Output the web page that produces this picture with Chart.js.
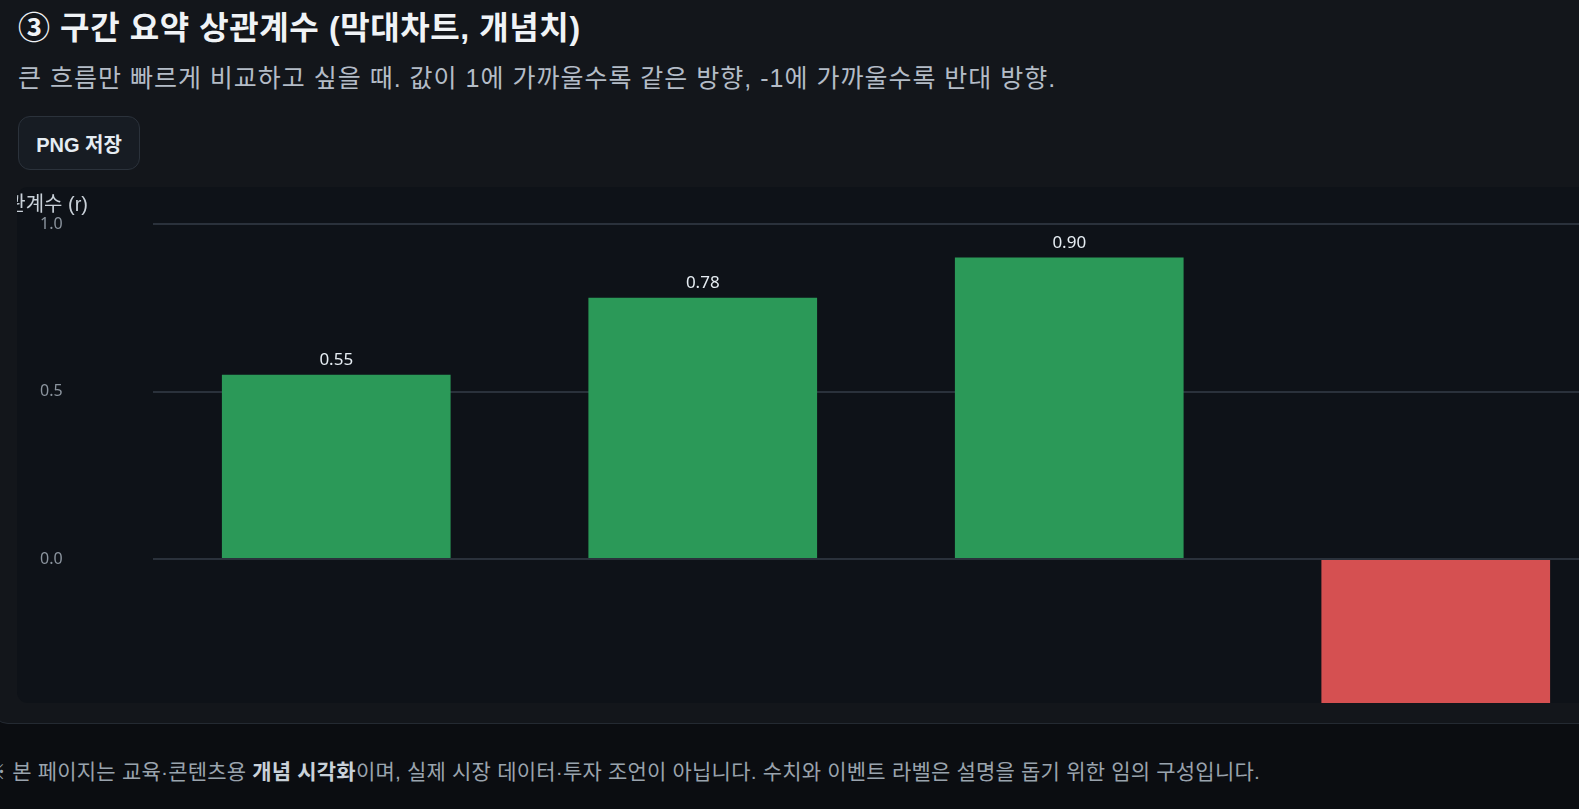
<!DOCTYPE html>
<html lang="ko">
<head>
<meta charset="utf-8">
<title>구간 요약 상관계수</title>
<script src="https://cdn.jsdelivr.net/npm/chart.js@4.4.1/dist/chart.umd.min.js"></script>
<style>
  html, body { margin: 0; padding: 0; }
  body {
    background: #0b0d11;
    width: 1579px; height: 809px;
    overflow: hidden; position: relative;
    font-family: "Liberation Sans", "Noto Sans CJK KR", sans-serif;
  }
  .card {
    position: absolute; left: -8px; top: -40px;
    width: 1700px; height: 762px;
    background: #13161b;
    border: 1px solid #242a32;
    border-radius: 16px;
  }
  h2 {
    position: absolute; left: 18px; top: 9px; margin: 0;
    font-size: 32px; line-height: 38px; font-weight: 700;
    letter-spacing: 0.6px;
    color: #f0f3f6;
  }
  .sub {
    position: absolute; left: 18px; top: 63px; margin: 0;
    font-size: 25px; line-height: 30px;
    letter-spacing: 1px;
    color: #b4bcc7;
  }
  button {
    position: absolute; left: 18px; top: 116px;
    width: 122px; height: 54px;
    background: #171c23; color: #e6edf3;
    border: 1px solid #2b323b; border-radius: 12px;
    font: 700 20px "Liberation Sans", "Noto Sans CJK KR", sans-serif;
  }
  .box {
    position: absolute; left: 17px; top: 187px;
    width: 1700px; height: 516px;
    background: #0e1218;
    border-radius: 11px;
    overflow: hidden;
  }
  #corrChart {
    position: absolute; left: -20px; top: 0;
  }
  .note {
    position: absolute; left: -15px; top: 757px; margin: 0;
    font-size: 21px; line-height: 30px;
    letter-spacing: 0.2px;
    color: #9aa3ad; white-space: nowrap;
  }
  .note b { color: #c9d1d9; }
</style>
</head>
<body>
<div class="card"></div>
<h2>③ 구간 요약 상관계수 (막대차트, 개념치)</h2>
<p class="sub">큰 흐름만 빠르게 비교하고 싶을 때. 값이 1에 가까울수록 같은 방향, -1에 가까울수록 반대 방향.</p>
<button>PNG 저장</button>
<div class="box">
  <canvas id="corrChart" width="1622" height="737"></canvas>
</div>
<p class="note">※ 본 페이지는 교육·콘텐츠용 <b>개념 시각화</b>이며, 실제 시장 데이터·투자 조언이 아닙니다. 수치와 이벤트 라벨은 설명을 돕기 위한 임의 구성입니다.</p>

<script>
// 구간별 상관계수 (개념치)
const segments = ['구간 1', '구간 2', '구간 3', '구간 4'];
const corrValues = [0.55, 0.78, 0.90, -0.62];
const yTicks = [-1.0, -0.5, 0.0, 0.5, 1.0];

const posColor = '#2b9958';
const negColor = '#d55051';

// 막대 위 값 표시 + 좌상단 축 제목
const barLabels = {
  id: 'barLabels',
  afterDatasetsDraw(chart) {
    const ctx = chart.ctx;
    const meta = chart.getDatasetMeta(0);
    ctx.save();
    ctx.font = '17px "Noto Sans", "Noto Sans CJK KR", sans-serif';
    ctx.fillStyle = '#e6edf3';
    ctx.textAlign = 'center';
    meta.data.forEach((bar, i) => {
      const v = corrValues[i];
      if (v >= 0) {
        ctx.textBaseline = 'bottom';
        ctx.fillText(v.toFixed(2), bar.x, bar.y - 6);
      } else {
        ctx.textBaseline = 'top';
        ctx.fillText(v.toFixed(2), bar.x, bar.y + 6);
      }
    });
    ctx.restore();
  },
  afterDraw(chart) {
    const ctx = chart.ctx;
    ctx.save();
    ctx.font = '20px "Liberation Sans", "Noto Sans CJK KR", sans-serif';
    ctx.fillStyle = '#c9d1d9';
    ctx.textAlign = 'right';
    ctx.textBaseline = 'middle';
    ctx.fillText('상관계수 (r)', 91, 18);
    ctx.restore();
  }
};

const ctx = document.getElementById('corrChart').getContext('2d');

const corrChart = new Chart(ctx, {
  type: 'bar',
  data: {
    labels: segments,
    datasets: [{
      label: '상관계수 (r)',
      data: corrValues,
      backgroundColor: corrValues.map(v => v >= 0 ? posColor : negColor),
      borderWidth: 0,
      categoryPercentage: 0.8,
      barPercentage: 0.78
    }]
  },
  options: {
    responsive: false,
    animation: false,
    layout: { padding: { top: 37, bottom: 30, left: 43, right: 0 } },
    plugins: {
      legend: { display: false },
      tooltip: { enabled: false }
    },
    scales: {
      x: {
        display: false
      },
      y: {
        min: -1,
        max: 1,
        afterFit(scale) { scale.width = 113; },
        afterBuildTicks(scale) {
          scale.ticks = yTicks.map(v => ({ value: v }));
        },
        border: { display: false },
        grid: {
          color: '#2a313b',
          lineWidth: 2,
          drawTicks: false
        },
        ticks: {
          padding: 0,
          crossAlign: 'far',
          color: '#8b949e',
          font: { family: '"Noto Sans", sans-serif', size: 16 },
          callback: v => Number(v).toFixed(1)
        }
      }
    }
  },
  plugins: [barLabels]
});
</script>
</body>
</html>
